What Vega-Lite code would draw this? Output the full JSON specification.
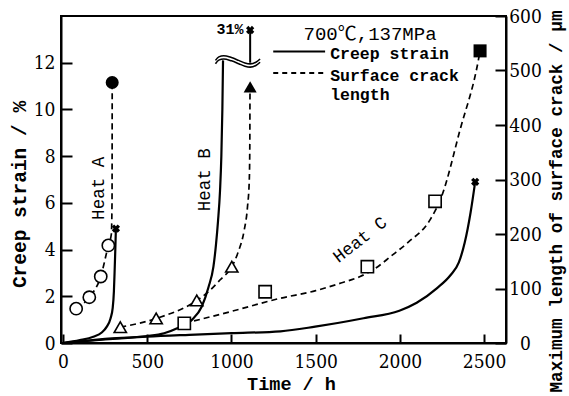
{
  "$schema": "https://vega.github.io/schema/vega-lite/v6.json",
  "width": 445,
  "height": 327,
  "autosize": {"type": "none"},
  "padding": {"left": 61, "top": 16, "right": 63, "bottom": 53},
  "background": "white",
  "config": {
    "view": {"stroke": "black", "strokeWidth": 2},
    "axis": {
      "grid": false,
      "domainColor": "black",
      "domainWidth": 2,
      "tickColor": "black",
      "tickWidth": 2,
      "labelColor": "black",
      "titleColor": "black",
      "labelFont": "DejaVu Serif Condensed, DejaVu Serif, serif",
      "labelFontSize": 19,
      "titleFont": "Liberation Mono",
      "titleFontWeight": "bold",
      "labelFlush": false,
      "labelOverlap": false
    },
    "text": {"color": "black"}
  },
  "datasets": {
    "creep": [
      {"heat": "A", "t": 0, "s": 0}, {"heat": "A", "t": 100, "s": 0.12}, {"heat": "A", "t": 180, "s": 0.27},
      {"heat": "A", "t": 230, "s": 0.45}, {"heat": "A", "t": 260, "s": 0.7}, {"heat": "A", "t": 282, "s": 1.05},
      {"heat": "A", "t": 295, "s": 1.5}, {"heat": "A", "t": 302, "s": 2.2}, {"heat": "A", "t": 306, "s": 3.0},
      {"heat": "A", "t": 310, "s": 3.9}, {"heat": "A", "t": 314, "s": 4.9},
      {"heat": "B", "t": 0, "s": 0}, {"heat": "B", "t": 250, "s": 0.18}, {"heat": "B", "t": 500, "s": 0.3},
      {"heat": "B", "t": 600, "s": 0.42}, {"heat": "B", "t": 685, "s": 0.65}, {"heat": "B", "t": 765, "s": 0.99},
      {"heat": "B", "t": 824, "s": 1.56}, {"heat": "B", "t": 864, "s": 2.4}, {"heat": "B", "t": 893, "s": 3.27},
      {"heat": "B", "t": 908, "s": 4.2}, {"heat": "B", "t": 920, "s": 5.2}, {"heat": "B", "t": 932, "s": 6.5},
      {"heat": "B", "t": 940, "s": 8.0}, {"heat": "B", "t": 946, "s": 10.0}, {"heat": "B", "t": 950, "s": 12.1},
      {"heat": "C", "t": 0, "s": 0}, {"heat": "C", "t": 250, "s": 0.15}, {"heat": "C", "t": 500, "s": 0.27},
      {"heat": "C", "t": 750, "s": 0.35}, {"heat": "C", "t": 1000, "s": 0.42}, {"heat": "C", "t": 1291, "s": 0.5},
      {"heat": "C", "t": 1497, "s": 0.7}, {"heat": "C", "t": 1784, "s": 1.06}, {"heat": "C", "t": 1997, "s": 1.38},
      {"heat": "C", "t": 2100, "s": 1.72}, {"heat": "C", "t": 2219, "s": 2.34}, {"heat": "C", "t": 2300, "s": 2.9},
      {"heat": "C", "t": 2350, "s": 3.45}, {"heat": "C", "t": 2385, "s": 4.3}, {"heat": "C", "t": 2420, "s": 5.6},
      {"heat": "C", "t": 2447, "s": 6.9}
    ],
    "brk": [
      {"k": "1", "t": 905, "s": 12.1}, {"k": "1", "t": 925, "s": 12.25}, {"k": "1", "t": 954, "s": 12.3},
      {"k": "1", "t": 1000, "s": 12.22}, {"k": "1", "t": 1043, "s": 12.1}, {"k": "1", "t": 1080, "s": 11.99},
      {"k": "1", "t": 1111, "s": 11.95}, {"k": "1", "t": 1145, "s": 12.02}, {"k": "1", "t": 1170, "s": 12.16},
      {"k": "2", "t": 905, "s": 11.96}, {"k": "2", "t": 925, "s": 12.11}, {"k": "2", "t": 954, "s": 12.16},
      {"k": "2", "t": 1000, "s": 12.08}, {"k": "2", "t": 1043, "s": 11.96}, {"k": "2", "t": 1080, "s": 11.85},
      {"k": "2", "t": 1111, "s": 11.81}, {"k": "2", "t": 1145, "s": 11.88}, {"k": "2", "t": 1170, "s": 12.02}
    ],
    "seg": [{"t": 1111, "s": 12.0, "s2": 13.4}],
    "rupture": [{"t": 314, "s": 4.9}, {"t": 1111, "s": 13.4}, {"t": 2447, "s": 6.9}],
    "crack": [
      {"heat": "A", "t": 78, "c": 63}, {"heat": "A", "t": 156, "c": 84}, {"heat": "A", "t": 224, "c": 122},
      {"heat": "A", "t": 269, "c": 179}, {"heat": "A", "t": 287, "c": 200}, {"heat": "A", "t": 291, "c": 260},
      {"heat": "A", "t": 292, "c": 478},
      {"heat": "B", "t": 340, "c": 29}, {"heat": "B", "t": 553, "c": 45}, {"heat": "B", "t": 794, "c": 78},
      {"heat": "B", "t": 874, "c": 97}, {"heat": "B", "t": 933, "c": 116}, {"heat": "B", "t": 1002, "c": 140},
      {"heat": "B", "t": 1040, "c": 167}, {"heat": "B", "t": 1075, "c": 206}, {"heat": "B", "t": 1095, "c": 249},
      {"heat": "B", "t": 1106, "c": 300}, {"heat": "B", "t": 1109, "c": 364}, {"heat": "B", "t": 1110, "c": 454},
      {"heat": "B", "t": 1111, "c": 470},
      {"heat": "C", "t": 720, "c": 36}, {"heat": "C", "t": 1000, "c": 58}, {"heat": "C", "t": 1289, "c": 82},
      {"heat": "C", "t": 1500, "c": 96}, {"heat": "C", "t": 1650, "c": 110}, {"heat": "C", "t": 1764, "c": 122},
      {"heat": "C", "t": 1850, "c": 136}, {"heat": "C", "t": 1950, "c": 160}, {"heat": "C", "t": 2050, "c": 185},
      {"heat": "C", "t": 2179, "c": 226}, {"heat": "C", "t": 2249, "c": 270}, {"heat": "C", "t": 2357, "c": 391},
      {"heat": "C", "t": 2466, "c": 519}, {"heat": "C", "t": 2476, "c": 536}
    ],
    "meas": [
      {"heat": "A", "t": 78, "c": 63}, {"heat": "A", "t": 156, "c": 84}, {"heat": "A", "t": 224, "c": 122},
      {"heat": "A", "t": 269, "c": 179},
      {"heat": "B", "t": 340, "c": 29}, {"heat": "B", "t": 553, "c": 45}, {"heat": "B", "t": 794, "c": 78},
      {"heat": "B", "t": 1002, "c": 140},
      {"heat": "C", "t": 720, "c": 36}, {"heat": "C", "t": 1200, "c": 94}, {"heat": "C", "t": 1807, "c": 140},
      {"heat": "C", "t": 2209, "c": 260}
    ],
    "fail": [
      {"heat": "A", "t": 292, "c": 478}, {"heat": "B", "t": 1111, "c": 470}, {"heat": "C", "t": 2476, "c": 536}
    ],
    "heatV": [{"label": "Heat A", "t": 212, "s": 6.62}, {"label": "Heat B", "t": 841, "s": 6.99}],
    "heatC": [{"label": "Heat C", "t": 1764, "s": 4.41}],
    "pct": [{"label": "31%", "t": 1072, "s": 13.46}],
    "legTitle": [{"label": "700℃,137MPa", "t": 1823, "s": 12.97}],
    "legLines": [
      {"type": "Creep strain", "t": 1248, "t2": 1556, "s": 12.48},
      {"type": "Surface crack length", "t": 1248, "t2": 1556, "s": 11.56}
    ],
    "legText": [
      {"label": "Creep strain", "t": 1586, "s": 12.15},
      {"label": "Surface crack", "t": 1586, "s": 11.21},
      {"label": "length", "t": 1586, "s": 10.42}
    ]
  },
  "encoding": {
    "x": {
      "field": "t",
      "type": "quantitative",
      "scale": {"domain": [-12, 2630], "nice": false, "zero": false},
      "axis": {
        "values": [0, 500, 1000, 1500, 2000, 2500],
        "format": "d",
        "title": "Time / h",
        "titleFontSize": 18.5,
        "titleX": 230,
        "titleY": 46,
        "titleBaseline": "alphabetic",
        "tickSize": -9,
        "labelPadding": 18
      }
    }
  },
  "layer": [
    {
      "encoding": {
        "y": {
          "field": "s",
          "type": "quantitative",
          "scale": {"domain": [0, 14], "nice": false},
          "axis": {
            "orient": "left",
            "values": [0, 2, 4, 6, 8, 10, 12],
            "title": "Creep strain / %",
            "titleFontSize": 19.5,
            "titleY": 178,
            "tickSize": -11,
            "labelPadding": 17
          }
        }
      },
      "layer": [
        {
          "data": {"name": "creep"},
          "mark": {"type": "line", "color": "black", "strokeWidth": 2.2, "interpolate": "monotone"},
          "encoding": {"detail": {"field": "heat"}}
        },
        {
          "data": {"name": "brk"},
          "mark": {"type": "line", "color": "black", "strokeWidth": 1.6, "interpolate": "monotone"},
          "encoding": {"detail": {"field": "k"}}
        },
        {
          "data": {"name": "seg"},
          "mark": {"type": "rule", "color": "black", "strokeWidth": 2},
          "encoding": {"y2": {"field": "s2"}}
        },
        {
          "data": {"name": "rupture"},
          "mark": {"type": "point", "shape": "cross", "angle": 45, "filled": true, "color": "black", "size": 70, "opacity": 1}
        },
        {
          "data": {"name": "legLines"},
          "mark": {"type": "rule", "color": "black", "strokeWidth": 2},
          "encoding": {
            "x2": {"field": "t2"},
            "strokeDash": {
              "field": "type",
              "type": "nominal",
              "scale": {"domain": ["Creep strain", "Surface crack length"], "range": [[1, 0], [5, 4]]},
              "legend": null
            },
            "strokeWidth": {
              "field": "type",
              "type": "nominal",
              "scale": {"domain": ["Creep strain", "Surface crack length"], "range": [3, 1.6]},
              "legend": null
            }
          }
        },
        {
          "data": {"name": "heatV"},
          "mark": {"type": "text", "angle": 270, "align": "center", "baseline": "middle", "font": "Liberation Mono", "fontSize": 17.5},
          "encoding": {"text": {"field": "label"}}
        },
        {
          "data": {"name": "heatC"},
          "mark": {"type": "text", "angle": 322, "align": "center", "baseline": "middle", "font": "Liberation Mono", "fontSize": 17.5},
          "encoding": {"text": {"field": "label"}}
        },
        {
          "data": {"name": "pct"},
          "mark": {"type": "text", "align": "right", "baseline": "middle", "font": "Liberation Mono", "fontSize": 15, "fontWeight": "bold"},
          "encoding": {"text": {"field": "label"}}
        },
        {
          "data": {"name": "legTitle"},
          "mark": {"type": "text", "align": "center", "baseline": "alphabetic", "font": "Liberation Mono, Noto Sans CJK JP", "fontSize": 19},
          "encoding": {"text": {"field": "label"}}
        },
        {
          "data": {"name": "legText"},
          "mark": {"type": "text", "align": "left", "baseline": "alphabetic", "font": "Liberation Mono", "fontSize": 16.5, "fontWeight": "bold"},
          "encoding": {"text": {"field": "label"}}
        }
      ]
    },
    {
      "encoding": {
        "y": {
          "field": "c",
          "type": "quantitative",
          "scale": {"domain": [0, 600], "nice": false},
          "axis": {
            "orient": "right",
            "values": [0, 100, 200, 300, 400, 500, 600],
            "title": "Maximum length of surface crack / μm",
            "titleFontSize": 17.7,
            "titleAngle": 270,
            "titleY": 185,
            "titlePadding": 24,
            "tickSize": -11,
            "labelPadding": 30,
            "labelAlign": "center"
          }
        }
      },
      "layer": [
        {
          "data": {"name": "crack"},
          "mark": {"type": "line", "color": "black", "strokeWidth": 1.7, "strokeDash": [6, 4], "interpolate": "monotone"},
          "encoding": {"detail": {"field": "heat"}}
        },
        {
          "data": {"name": "meas"},
          "mark": {"type": "point", "filled": true, "fill": "white", "stroke": "black", "strokeWidth": 1.6, "size": 150, "opacity": 1},
          "encoding": {
            "shape": {
              "field": "heat",
              "type": "nominal",
              "scale": {"domain": ["A", "B", "C"], "range": ["circle", "triangle-up", "square"]},
              "legend": null
            }
          }
        },
        {
          "data": {"name": "fail"},
          "mark": {"type": "point", "filled": true, "color": "black", "size": 170, "opacity": 1},
          "encoding": {
            "shape": {
              "field": "heat",
              "type": "nominal",
              "scale": {"domain": ["A", "B", "C"], "range": ["circle", "triangle-up", "square"]},
              "legend": null
            }
          }
        }
      ]
    }
  ],
  "resolve": {"scale": {"y": "independent"}}
}
